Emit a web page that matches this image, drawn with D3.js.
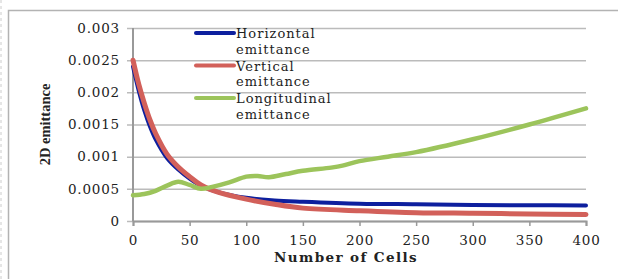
<!DOCTYPE html>
<html>
<head>
<meta charset="utf-8">
<script src="https://d3js.org/d3.v7.min.js"></script>
<style>
  body { margin: 0; background: #fff; }
  text { font-family: "DejaVu Serif", serif; fill: #222; }
</style>
</head>
<body>
<script>
// data
const decayCells = [0, 5, 10, 15, 20, 30, 40, 50, 60, 75, 100, 125, 150, 200, 250, 300, 350, 400];
const horizontal = [0.0024, 0.00203, 0.00172, 0.00147, 0.00127, 0.00098, 0.0008, 0.00066, 0.00055, 0.00045,
                    0.00036, 0.00032, 0.0003, 0.00027, 0.00026, 0.00025, 0.000245, 0.00024];
const vertical = [0.0025, 0.00213, 0.00183, 0.00157, 0.00136, 0.00104, 0.00084, 0.00069, 0.00056, 0.00045,
                  0.00034, 0.00026, 0.0002, 0.00016, 0.00013, 0.00012, 0.00011, 0.0001];
const longCells = [0, 10, 20, 30, 40, 50, 60, 70, 85, 100, 110, 120, 135, 150, 175, 185, 200, 225, 250, 300, 350, 400];
const longitudinal = [0.0004, 0.00042, 0.00047, 0.00055, 0.00061, 0.00056, 0.0005, 0.00053, 0.0006, 0.00069,
                      0.0007, 0.00068, 0.00073, 0.00078, 0.00083, 0.00086, 0.00093, 0.001, 0.00107, 0.00127,
                      0.0015, 0.00175];
const yTicks = [0, 0.0005, 0.001, 0.0015, 0.002, 0.0025, 0.003];
const xTicks = [0, 50, 100, 150, 200, 250, 300, 350, 400];
const seriesNames = ["Horizontal", "Vertical", "Longitudinal"];
const seriesColors = ["#0d1f9e", "#d2605a", "#9cc45b"];

const W = 618, H = 279;
const margin = {top: 28, right: 32, bottom: 58, left: 133};

const svg = d3.select("body").append("svg")
    .attr("width", W)
    .attr("height", H);

// outer frame (cut off at the right and bottom like the screenshot)
svg.append("line")
    .attr("x1", 1).attr("x2", 1).attr("y1", 0).attr("y2", H)
    .attr("stroke", "#ccc").attr("stroke-dasharray", "3,3")
svg.append("rect")
    .attr("x", 8.5).attr("y", 10.5)
    .attr("width", W + 10).attr("height", H + 10)
    .attr("fill", "none").attr("stroke", "#b3b3b3").attr("stroke-width", 1.5)

const x = d3.scaleLinear().domain([0, 400]).range([margin.left, W - margin.right]);
const y = d3.scaleLinear().domain([0, 0.003]).range([H - margin.bottom, margin.top]);

// gridlines + y axis
const yAxis = svg.append("g")
    .attr("transform", `translate(${margin.left},0)`)
    .call(d3.axisLeft(y).tickValues(yTicks).tickSize(-(W - margin.right - margin.left)).tickPadding(13)
        .tickFormat(d => d === 0 ? "0" : String(+d.toFixed(4))))
yAxis.select(".domain").remove()
yAxis.selectAll(".tick line")
    .attr("x1", -6)
    .attr("stroke", "#bbb").attr("stroke-width", 1.5)
yAxis.selectAll(".tick text")
    .style("font-family", "DejaVu Serif")
    .style("font-size", "13.5px")
    .style("letter-spacing", "0.8px")
    .attr("fill", "#222")

svg.append("line")
    .attr("x1", x(0)).attr("x2", x(0))
    .attr("y1", y(0.003)).attr("y2", y(0))
    .attr("stroke", "#999").attr("stroke-width", 2)

// x axis
const xAxis = svg.append("g")
    .attr("transform", `translate(0,${y(0)})`)
    .call(d3.axisBottom(x).tickValues(xTicks).tickSize(5).tickPadding(9))
xAxis.select(".domain").attr("stroke", "#999").attr("stroke-width", 2)
xAxis.selectAll(".tick line").attr("stroke", "#999").attr("stroke-width", 1.5)
xAxis.selectAll(".tick text")
    .style("font-family", "DejaVu Serif")
    .style("font-size", "13.5px")
    .style("letter-spacing", "0.8px")
    .attr("fill", "#222")

// lines
const line = d3.line()
    .x(d => x(d[0]))
    .y(d => y(d[1]))
    .curve(d3.curveCatmullRom.alpha(0.5))

const series = [
    {name: seriesNames[0], color: seriesColors[0], width: 4, pts: d3.zip(decayCells, horizontal)},
    {name: seriesNames[1], color: seriesColors[1], width: 5, pts: d3.zip(decayCells, vertical)},
    {name: seriesNames[2], color: seriesColors[2], width: 4.5, pts: d3.zip(longCells, longitudinal)}
]

svg.selectAll("path.series")
    .data(series)
    .enter()
    .append("path")
    .attr("class", "series")
    .attr("d", d => line(d.pts))
    .attr("fill", "none")
    .attr("stroke", d => d.color)
    .attr("stroke-width", d => d.width)
    .attr("stroke-linecap", "round")

// legend
const legend = svg.append("g").attr("transform", "translate(196,33)")
series.forEach((s, i) => {
    const g = legend.append("g").attr("transform", `translate(0,${i * 32.5})`)
    g.append("line")
        .attr("x1", 0).attr("x2", 38)
        .attr("stroke", s.color).attr("stroke-width", 4).attr("stroke-linecap", "round")
    g.append("text")
        .attr("x", 40).attr("y", 5)
        .style("font-size", "13px").style("letter-spacing", "1px")
        .text(s.name)
    g.append("text")
        .attr("x", 40).attr("y", 20.5)
        .style("font-size", "13px").style("letter-spacing", "1px")
        .text("emittance")
})

// axis titles
svg.append("text")
    .attr("transform", `translate(50,${(margin.top + H - margin.bottom) / 2}) rotate(-90)`)
    .attr("text-anchor", "middle")
    .style("font-family", "Liberation Serif")
    .style("font-weight", "bold")
    .style("font-size", "14.5px")
    .text("2D emittance")

svg.append("text")
    .attr("x", 346).attr("y", 262)
    .attr("text-anchor", "middle")
    .style("font-weight", "bold")
    .style("font-size", "13.5px")
    .style("letter-spacing", "1.4px")
    .text("Number of Cells")
</script>
</body>
</html>
